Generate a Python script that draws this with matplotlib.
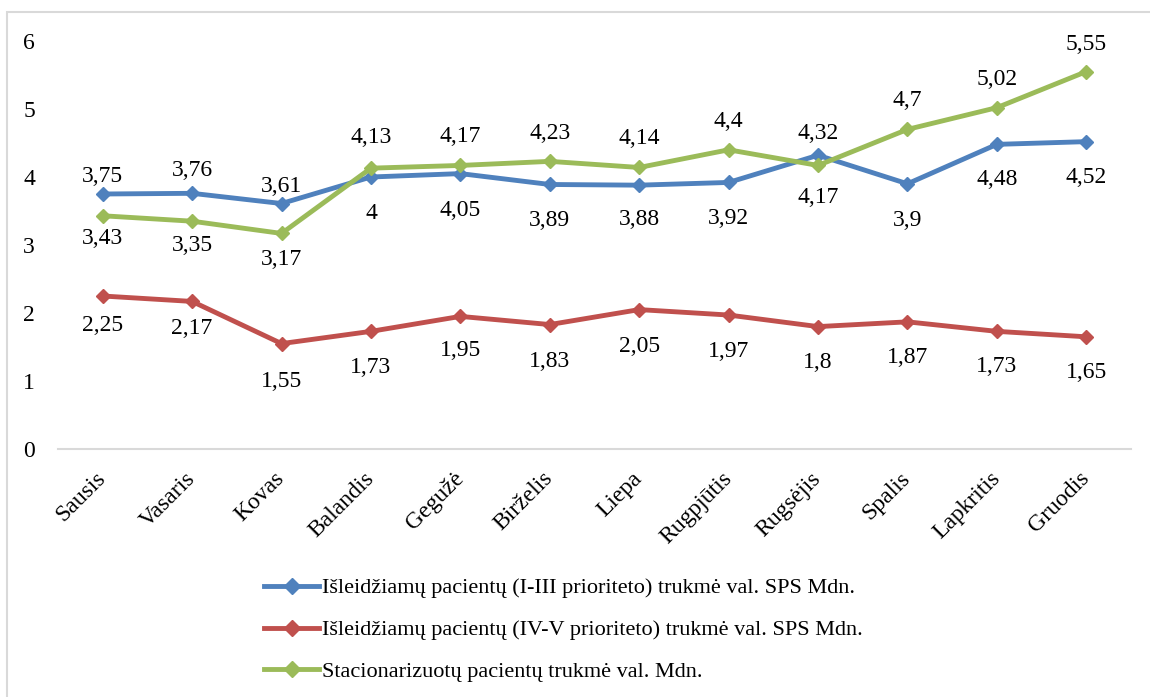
import matplotlib
matplotlib.use("Agg")
import matplotlib.pyplot as plt
from matplotlib.patches import Rectangle
from matplotlib.transforms import ScaledTranslation

months = ["Sausis", "Vasaris", "Kovas", "Balandis", "Gegužė", "Birželis", "Liepa",
          "Rugpjūtis", "Rugsėjis", "Spalis", "Lapkritis", "Gruodis"]
s1 = [3.75, 3.76, 3.61, 4.00, 4.05, 3.89, 3.88, 3.92, 4.32, 3.90, 4.48, 4.52]
s2 = [2.25, 2.17, 1.55, 1.73, 1.95, 1.83, 2.05, 1.97, 1.80, 1.87, 1.73, 1.65]
s3 = [3.43, 3.35, 3.17, 4.13, 4.17, 4.23, 4.14, 4.40, 4.17, 4.70, 5.02, 5.55]
names = ["Išleidžiamų pacientų (I-III prioriteto) trukmė val. SPS Mdn.",
         "Išleidžiamų pacientų (IV-V prioriteto) trukmė val. SPS Mdn.",
         "Stacionarizuotų pacientų trukmė val. Mdn."]
colors = ["#4F81BD", "#C0504D", "#9BBB59"]
# label offsets in pixels (positive = above the point)
off1 = [20, 25, 20, -34, -34, -34, -32, -34, 24, -34, -33, -33]
off2 = [-27, -25, -35, -34, -32, -34, -34, -34, -33, -33, -33, -33]
off3 = [-20, -22, -24, 33, 31, 30, 31, 31, -30, 31, 31, 30]

plt.rcParams['font.family'] = ['Liberation Serif', 'DejaVu Serif']
fig = plt.figure(figsize=(11.5, 6.97), dpi=100)
fig.patches.append(Rectangle((7/1150, -0.05), 1.1, 1 - 12/697 + 0.05,
                             transform=fig.transFigure, fill=False,
                             edgecolor="#D9D9D9", linewidth=1.5))
ax = fig.add_axes([58/1150, 1 - 449/697, (1131 - 58)/1150, (449 - 41)/697])
x = list(range(len(months)))
handles = []
for vals, offs, c, n in zip([s1, s2, s3], [off1, off2, off3], colors, names):
    h, = ax.plot(x, vals, color=c, lw=3.5, marker="D", ms=7, label=n, clip_on=False)
    handles.append(h)
    for xi, v, o in zip(x, vals, offs):
        lab = ("%g" % v).replace(".", ",")
        ax.annotate(lab, (xi, v), xytext=(0, o * 0.72), textcoords="offset points",
                    ha="center", va="center_baseline", fontsize=17, annotation_clip=False)

ax.set_xlim(-0.5, 11.5)
ax.set_ylim(0, 6)
ax.set_yticks(range(0, 7))
ax.set_xticks(x)
ax.set_xticklabels(months, rotation=45, ha="right", va="center",
                   rotation_mode="anchor", fontsize=17)
for lbl in ax.get_xticklabels():
    lbl.set_transform(lbl.get_transform() + ScaledTranslation(5/100, 0, fig.dpi_scale_trans))
ax.tick_params(axis="y", labelsize=17, length=0, pad=16.5)
ax.tick_params(axis="x", length=0, pad=19)
for s in ["top", "right", "left"]:
    ax.spines[s].set_visible(False)
ax.spines["bottom"].set_color("#D9D9D9")
ax.spines["bottom"].set_linewidth(1.5)
ax.patch.set_visible(False)

fig.legend(handles=handles, loc="upper left", bbox_to_anchor=(255/1150, 1 - 569/697),
           frameon=False, fontsize=16, handlelength=2.5, handletextpad=0.1,
           labelspacing=0.96, borderaxespad=0, markerscale=1.2)
fig.savefig("out.png", dpi=100)
